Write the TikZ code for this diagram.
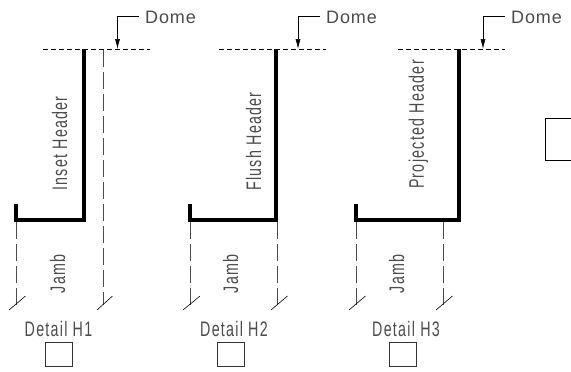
\documentclass[tikz,border=0pt]{standalone}
\usepackage{fontspec}
\setmainfont[FakeStretch=0.68,LetterSpace=6]{Liberation Sans}
\newfontfamily\domefont[LetterSpace=5]{Liberation Sans}
\usetikzlibrary{arrows.meta}
\tikzset{
	cadtext/.style={font=\fontsize{21}{21}\selectfont, text=black!70, inner sep=0pt},
	domelabel/.style={font=\domefont\fontsize{18}{18}\selectfont, text=black!70, inner sep=0pt, anchor=west},
	header/.style={line width=3.3pt, line join=miter},
	domeline/.style={line width=0.6pt, dash pattern=on 5pt off 3pt},
	jambline/.style={line width=0.6pt, black!70, dash pattern=on 17pt off 5pt},
	tickline/.style={line width=0.6pt},
	leader/.style={line width=0.6pt, -{Latex[length=10pt,width=5pt]}},
	detailbox/.style={draw, black!80, line width=0.6pt, minimum width=27pt, minimum height=24pt, inner sep=0pt}
}
\begin{document}
\begin{tikzpicture}[x=1pt, y=-1pt]
	\useasboundingbox (0, 0) rectangle (571, 372);

	% Detail H1
	\coordinate (topA1) at (43, 49.5);
	\coordinate (topA2) at (150, 49.5);
	\coordinate (stubA) at (16, 204);
	\coordinate (cornerA1) at (16, 220);
	\coordinate (cornerA2) at (84, 220);
	\coordinate (headA) at (84, 49);
	\coordinate (jambA1) at (16, 222);
	\coordinate (jambA2) at (16, 305);
	\coordinate (jambA3) at (103.5, 50);
	\coordinate (jambA4) at (103.5, 305);
	\coordinate (tickA1) at (9, 310);
	\coordinate (tickA2) at (25.5, 296);
	\coordinate (tickA3) at (97, 310);
	\coordinate (tickA4) at (112.5, 296);
	\coordinate (bendA) at (117.5, 16);
	\coordinate (tipA) at (117.5, 49);
	\node[domelabel] (domeA) at (145, 17) {Dome};
	\node[cadtext, rotate=90] (insetH) at (59.5, 143.5) {Inset Header};
	\node[cadtext, rotate=90] (jambA) at (57.5, 274) {Jamb};
	\node[cadtext] (detailA) at (58.5, 329) {Detail H1};
	\node[detailbox] (boxA) at (58.5, 354) {};

	% Detail H2
	\coordinate (topB1) at (219, 49.5);
	\coordinate (topB2) at (326, 49.5);
	\coordinate (stubB) at (190, 204);
	\coordinate (cornerB1) at (190, 220);
	\coordinate (cornerB2) at (276, 220);
	\coordinate (headB) at (276, 49);
	\coordinate (jambB1) at (190.5, 222);
	\coordinate (jambB2) at (190.5, 305);
	\coordinate (jambB3) at (277.5, 222);
	\coordinate (jambB4) at (277.5, 305);
	\coordinate (tickB1) at (183, 310);
	\coordinate (tickB2) at (200, 296);
	\coordinate (tickB3) at (271, 310);
	\coordinate (tickB4) at (287.5, 296);
	\coordinate (bendB) at (298, 16);
	\coordinate (tipB) at (298, 49);
	\node[domelabel] (domeB) at (326, 17) {Dome};
	\node[cadtext, rotate=90] (flushH) at (253.5, 141.5) {Flush Header};
	\node[cadtext, rotate=90] (jambB) at (230.5, 274) {Jamb};
	\node[cadtext] (detailB) at (234, 329) {Detail H2};
	\node[detailbox] (boxB) at (230.5, 354) {};

	% Detail H3
	\coordinate (topC1) at (398, 49.5);
	\coordinate (topC2) at (505, 49.5);
	\coordinate (stubC) at (356, 204);
	\coordinate (cornerC1) at (356, 220);
	\coordinate (cornerC2) at (459, 220);
	\coordinate (headC) at (459, 49);
	\coordinate (jambC1) at (356, 222);
	\coordinate (jambC2) at (356, 305);
	\coordinate (jambC3) at (443, 222);
	\coordinate (jambC4) at (443, 305);
	\coordinate (tickC1) at (349, 310);
	\coordinate (tickC2) at (365.5, 296);
	\coordinate (tickC3) at (436, 310);
	\coordinate (tickC4) at (452.5, 296);
	\coordinate (bendC) at (483, 16);
	\coordinate (tipC) at (483, 49);
	\node[domelabel] (domeC) at (511, 17) {Dome};
	\node[cadtext, rotate=90] (projH) at (418.5, 124.5) {Projected Header};
	\node[cadtext, rotate=90] (jambC) at (396.5, 274) {Jamb};
	\node[cadtext] (detailC) at (406, 329) {Detail H3};
	\node[detailbox] (boxC) at (402.5, 354) {};

	% box cut by the right edge
	\node[draw, line width=0.6pt, inner sep=0pt, minimum width=40pt, minimum height=42pt] (boxD) at (565, 139) {};

	\draw[header] (stubA) -- (cornerA1) -- (cornerA2) -- (headA);
	\draw[header] (stubB) -- (cornerB1) -- (cornerB2) -- (headB);
	\draw[header] (stubC) -- (cornerC1) -- (cornerC2) -- (headC);

	\path (topA1) edge[domeline] (topA2)
	(topB1) edge[domeline] (topB2)
	(topC1) edge[domeline] (topC2)
	(jambA1) edge[jambline] (jambA2)
	(jambA3) edge[jambline] (jambA4)
	(jambB1) edge[jambline] (jambB2)
	(jambB3) edge[jambline] (jambB4)
	(jambC1) edge[jambline] (jambC2)
	(jambC3) edge[jambline] (jambC4)
	(tickA1) edge[tickline] (tickA2)
	(tickA3) edge[tickline] (tickA4)
	(tickB1) edge[tickline] (tickB2)
	(tickB3) edge[tickline] (tickB4)
	(tickC1) edge[tickline] (tickC2)
	(tickC3) edge[tickline] (tickC4);

	\draw[leader] ([xshift=-6pt, yshift=1pt]domeA.west) -- (bendA) -- (tipA);
	\draw[leader] ([xshift=-6pt, yshift=1pt]domeB.west) -- (bendB) -- (tipB);
	\draw[leader] ([xshift=-6pt, yshift=1pt]domeC.west) -- (bendC) -- (tipC);
\end{tikzpicture}
\end{document}
